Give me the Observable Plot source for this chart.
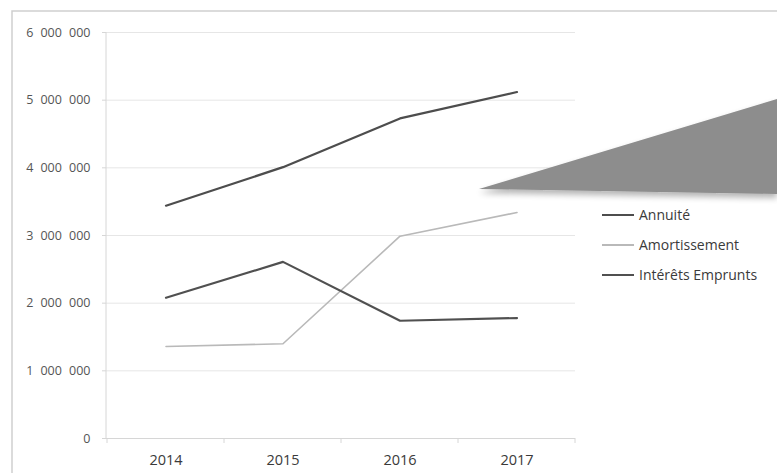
<!DOCTYPE html>
<html>
<head>
<meta charset="utf-8">
<script src="https://cdn.jsdelivr.net/npm/d3@7"></script>
<script src="https://cdn.jsdelivr.net/npm/@observablehq/plot@0.6"></script>
<style>
  html, body { margin: 0; padding: 0; background: #fff; }
  #chart { width: 777px; height: 473px; }
</style>
</head>
<body>
<div id="chart"></div>
<script>
// Annual loan figures (in euros)
const years = ["2014", "2015", "2016", "2017"];
const annuite = [3440000, 4010000, 4730000, 5120000];
const amortissement = [1360000, 1400000, 2990000, 3340000];
const interets = [2080000, 2610000, 1740000, 1780000];
const yTicks = [0, 1000000, 2000000, 3000000, 4000000, 5000000, 6000000];

const seriesNames = ["Annuité", "Amortissement", "Intérêts Emprunts"];
const seriesColors = ["#4d4d4d", "#b9b9b9", "#505050"];
const seriesValues = [annuite, amortissement, interets];

const rows = seriesNames.flatMap((name, i) =>
  years.map((year, j) => ({series: name, year, value: seriesValues[i][j]}))
);

// thousands grouped with figure spaces
const fmt = d => d3.format(",")(d).replace(/,/g, "\u2007");
const font = "'Open Sans', 'DejaVu Sans', sans-serif";

const chart = Plot.plot({
  width: 777,
  height: 473,
  marginLeft: 106,
  marginRight: 202,
  marginTop: 32,
  marginBottom: 35,
  style: {fontFamily: font, background: "#fff", overflow: "visible"},
  x: {type: "band", domain: years, padding: 0, label: null},
  y: {domain: [0, 6000000], label: null},
  color: {domain: seriesNames, range: seriesColors},
  marks: [
    Plot.gridY(yTicks, {stroke: "#e6e6e6", strokeOpacity: 1}),
    Plot.ruleY([0], {stroke: "#d6d6d6"}),
    Plot.axisY(yTicks, {
      tickFormat: fmt, tickSize: 4, tickPadding: 12, stroke: "#d6d6d6",
      fill: "#555", fontSize: 12.5, label: null
    }),
    Plot.axisX({tickSize: 0, tickPadding: 16, fill: "#3a3a3a", fontSize: 14.5, label: null}),
    ...seriesNames.map(name =>
      Plot.line(rows.filter(d => d.series === name), {
        x: "year", y: "value", stroke: "series",
        strokeWidth: name === "Amortissement" ? 1.6 : 2.2
      })
    )
  ]
});

document.getElementById("chart").appendChild(chart);

const svg = d3.select(chart);
const xs = chart.scale("x");
const ys = chart.scale("y");
const y0 = ys.apply(0);
const xEnd = xs.range[1];

// outer chart frame (top and left edges)
svg.insert("path", ":first-child")
  .attr("d", "M12,473 L12,11 L777,11")
  .attr("fill", "none").attr("stroke", "#cfcfcf").attr("stroke-width", 1.5);

// vertical value axis line
svg.append("line")
  .attr("x1", xs.range[0]).attr("x2", xs.range[0])
  .attr("y1", ys.apply(6000000)).attr("y2", y0)
  .attr("stroke", "#d6d6d6");

// category boundary ticks along the baseline
const bounds = years.map(y => xs.apply(y)).concat([xEnd]);
svg.append("g").selectAll("line").data(bounds).join("line")
  .attr("x1", d => d).attr("x2", d => d)
  .attr("y1", y0).attr("y2", y0 + 5)
  .attr("stroke", "#d6d6d6");

// decorative grey wedge with soft shadow
const defs = svg.append("defs");
const f = defs.append("filter").attr("id", "wedgeShadow")
  .attr("x", "-10%").attr("y", "-20%").attr("width", "130%").attr("height", "160%");
f.append("feGaussianBlur").attr("in", "SourceAlpha").attr("stdDeviation", 3);
f.append("feOffset").attr("dx", 0).attr("dy", 4).attr("result", "blur");
f.append("feComponentTransfer").append("feFuncA").attr("type", "linear").attr("slope", 0.3);
const m = f.append("feMerge");
m.append("feMergeNode");
m.append("feMergeNode").attr("in", "SourceGraphic");
svg.append("polygon")
  .attr("points", "479,189 777,99 777,194")
  .attr("fill", "#8d8d8d")
  .attr("filter", "url(#wedgeShadow)");

// legend
const legend = svg.append("g")
  .attr("font-family", font).attr("font-size", 14).attr("text-anchor", "start");
seriesNames.forEach((name, i) => {
  const ly = 215 + i * 30;
  legend.append("line")
    .attr("x1", 602).attr("x2", 634).attr("y1", ly).attr("y2", ly)
    .attr("stroke", seriesColors[i]).attr("stroke-width", 2);
  legend.append("text")
    .attr("x", 639).attr("y", ly).attr("dy", "0.35em")
    .attr("fill", "#3a3a3a").text(name);
});
</script>
</body>
</html>
